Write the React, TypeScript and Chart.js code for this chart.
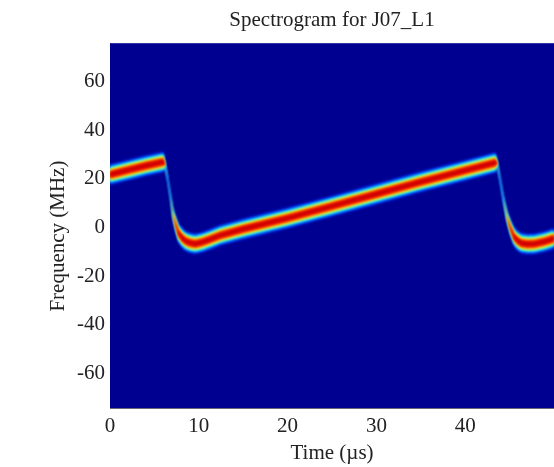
import React, { useEffect, useRef } from "react";
import { Chart, registerables } from "chart.js";

Chart.register(...registerables);

const timeUs = [0, 2, 4, 6, 6.2, 6.5, 6.8, 7.1, 7.4, 7.7, 8.1, 8.5, 9, 9.6, 10.4, 11.3, 12.4, 15, 20, 25, 30, 35, 40, 43.4, 43.6, 43.9, 44.3, 44.7, 45.1, 45.5, 45.9, 46.3, 47, 47.8, 49, 50];
const centerMHz = [21, 22.8, 24.6, 26.2, 25, 19, 12, 4.5, 0.5, -3, -5, -6.3, -7.1, -7.5, -6.8, -5.6, -4, -1.4, 3.1, 8, 13, 18, 22.7, 25.9, 25.5, 19.5, 11, 3.7, -1, -4.6, -6.2, -7.2, -7.6, -7.5, -6.5, -5.3];
const fadeMHz = [0, 0, 0, 0, 2, 2.4, 2.2, 1.3, 0.5, 0.1, 0, 0, 0, 0, 0, 0, 0, 0, 0, 0, 0, 0, 0, 0, 2, 2.4, 2.2, 1.3, 0.5, 0.1, 0, 0, 0, 0, 0, 0];
const bandHalfWidths = [1.0, 1.5, 2.1, 2.6, 3.1, 3.7, 4.4];
const bandColors = ["#d00000", "#ff3000", "#ffb000", "#b0ff60", "#20e0ff", "#0080ff", "#0020d8"];
const xTicks = [0, 10, 20, 30, 40];
const yTicks = [60, 40, 20, 0, -20, -40, -60];

const FONT = "'Liberation Serif', serif";

export default function App() {
  const ref = useRef<HTMLCanvasElement>(null);
  useEffect(() => {
    const datasets: any[] = [];
    bandHalfWidths.forEach((hw, i) => {
      const common = { pointRadius: 0, borderWidth: 0, tension: 0, showLine: true };
      datasets.push({
        ...common,
        data: timeUs.map((t, k) => ({ x: t, y: centerMHz[k] + Math.max(0, hw - fadeMHz[k]) })),
        fill: false,
      });
      datasets.push({
        ...common,
        data: timeUs.map((t, k) => ({ x: t, y: centerMHz[k] - Math.max(0, hw - fadeMHz[k]) })),
        fill: "-1",
        backgroundColor: bandColors[i],
      });
    });
    const chart = new Chart(ref.current!, {
      type: "scatter",
      data: { datasets },
      options: {
        animation: false,
        responsive: false,
        layout: { padding: { left: 0, right: 0, top: 0, bottom: 0 } },
        plugins: {
          legend: { display: false },
          tooltip: { enabled: false },
          title: {
            display: true,
            text: "Spectrogram for J07_L1",
            fullSize: false,
            color: "#222",
            font: { family: FONT, size: 21, weight: "normal" },
            padding: { top: 8, bottom: 10 },
          },
        },
        scales: {
          x: {
            type: "linear",
            min: 0,
            max: 50,
            grid: { display: false, drawTicks: false },
            border: { display: true, color: "#667" },
            afterBuildTicks: (s: any) => { s.ticks = xTicks.map((value) => ({ value })); },
            afterFit: (s: any) => { s.height = 59; },
            ticks: { color: "#222", font: { family: FONT, size: 21 }, padding: 6, maxRotation: 0, autoSkip: false },
            title: { display: true, text: "Time (µs)", color: "#222", font: { family: FONT, size: 21 }, padding: { top: 0, bottom: 1 } },
          },
          y: {
            type: "linear",
            min: -75,
            max: 75,
            grid: { display: false, drawTicks: false },
            border: { display: true, color: "#667" },
            afterBuildTicks: (s: any) => { s.ticks = yTicks.map((value) => ({ value })); },
            afterFit: (s: any) => { s.width = 110; },
            ticks: { color: "#222", font: { family: FONT, size: 21 }, padding: 5, autoSkip: false, labelOffset: 2 },
            title: { display: true, text: "Frequency (MHz)    ", color: "#222", font: { family: FONT, size: 21 }, padding: { top: 46, bottom: 0 } },
          },
        },
      },
      plugins: [
        {
          id: "field",
          beforeDatasetsDraw(c: any) {
            const { ctx, chartArea: a } = c;
            ctx.save();
            ctx.fillStyle = "#000090";
            ctx.fillRect(a.left, a.top, a.right - a.left, a.bottom - a.top);
            ctx.restore();
            ctx.filter = "blur(0.8px)";
          },
          afterDatasetsDraw(c: any) {
            c.ctx.filter = "none";
          },
        },
      ],
    } as any);
    return () => chart.destroy();
  }, []);
  return (
    <canvas
      ref={ref}
      width={554}
      height={467}
      style={{ position: "fixed", left: 0, top: 0, width: 554, height: 467, background: "#fff" }}
    />
  );
}
